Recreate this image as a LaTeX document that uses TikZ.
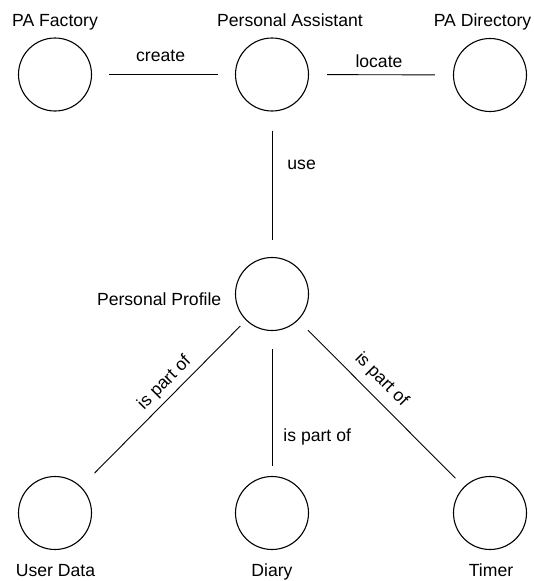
\documentclass[tikz,border=0pt]{standalone}
\usepackage{fontspec}
\setmainfont{Liberation Sans}
\begin{document}
\begin{tikzpicture}[x=1pt,y=-1pt,
  obj/.style={draw, circle, minimum size=73pt, inner sep=0pt, line width=1.1pt},
  lbl/.style={font=\fontsize{17.6}{20}\selectfont, inner sep=0pt},
  link/.style={line width=0.9pt},
]
\useasboundingbox (0,0) rectangle (534,581);

% objects
\node[obj] (pf) at (55,74.5) {};
\node[obj] (pa) at (272,74.5) {};
\node[obj] (pd) at (490,75) {};
\node[obj] (pp) at (272,294) {};
\node[obj] (ud) at (55,513) {};
\node[obj] (di) at (272,513) {};
\node[obj] (tm) at (490,513) {};

% object names
\node[lbl, anchor=base] (tpf) at (55,26.5) {PA Factory};
\node[lbl, anchor=base] (tpa) at (290,26.5) {Personal Assistant};
\node[lbl, anchor=base] (tpd) at (482.5,26.5) {PA Directory};
\node[lbl, anchor=base east] (tpp) at (221.5,305) {Personal Profile};
\node[lbl, anchor=base] (tud) at (55.5,576) {User Data};
\node[lbl, anchor=base] (tdi) at (272,576) {Diary};
\node[lbl, anchor=base] (ttm) at (491,576) {Timer};

% associations
\draw[link, shorten <=17pt, shorten >=17pt] (pf) -- node[lbl, pos=0.48, yshift=19pt] {create} (pa);
\draw[link, shorten <=18pt, shorten >=18pt] (pa) -- node[lbl, pos=0.486, yshift=13.5pt] {locate} (pd);
\draw[link, shorten <=19pt, shorten >=17pt] (pa) -- node[lbl, pos=0.37, anchor=west, inner xsep=15pt] {use} (pp);
\draw[link, shorten <=8pt, shorten >=19pt] (pp) -- node[lbl, pos=0.435, sloped, anchor=south, inner ysep=4.75pt] {is part of} (ud);
\draw[link, shorten <=18pt, shorten >=10pt] (pp) -- node[lbl, pos=0.73, anchor=west, inner xsep=11pt] {is part of} (di);
\draw[link, shorten <=14pt, shorten >=12pt] (pp) -- node[lbl, pos=0.43, sloped, anchor=south, inner ysep=8.3pt] {is part of} (tm);
\end{tikzpicture}
\end{document}
